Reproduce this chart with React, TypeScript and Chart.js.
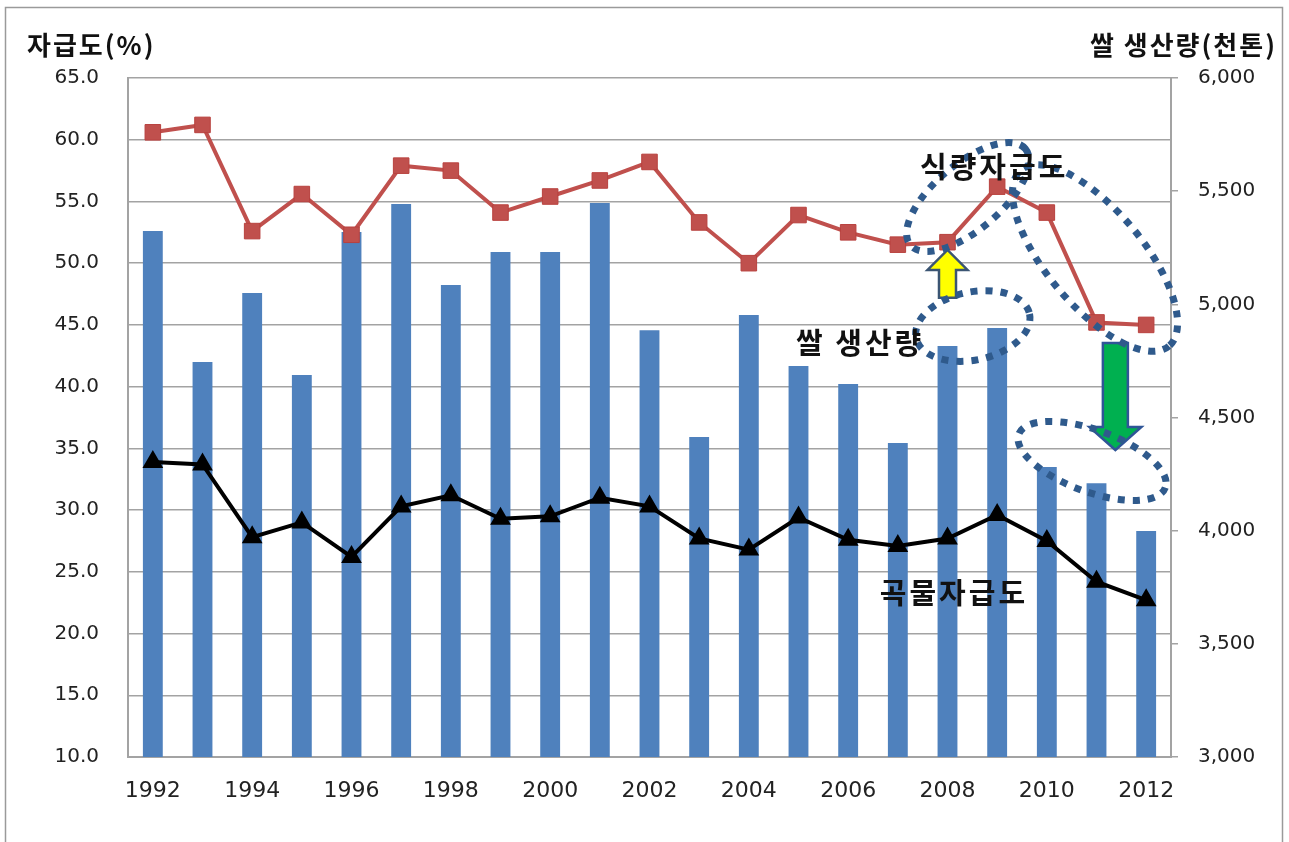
import React, { useEffect, useRef } from "react";
import { Chart, registerables } from "chart.js";
Chart.register(...registerables);

// ---- data ----
const years = [
  "1992", "1993", "1994", "1995", "1996", "1997", "1998", "1999", "2000", "2001", "2002",
  "2003", "2004", "2005", "2006", "2007", "2008", "2009", "2010", "2011", "2012",
];
// 쌀 생산량 (천톤), right axis
const riceProduction = [
  5324, 4745, 5050, 4688, 5320, 5443, 5085, 5231, 5231, 5448, 4886,
  4414, 4953, 4727, 4648, 4387, 4816, 4895, 4281, 4210, 3998,
];
// 식량자급도 (%), left axis
const foodSelfSufficiency = [
  60.6, 61.2, 52.6, 55.6, 52.3, 57.9, 57.5, 54.1, 55.4, 56.7, 58.2,
  53.3, 50.0, 53.9, 52.5, 51.5, 51.7, 56.2, 54.1, 45.2, 45.0,
];
// 곡물자급도 (%), left axis
const grainSelfSufficiency = [
  33.9, 33.7, 27.8, 29.0, 26.2, 30.3, 31.2, 29.3, 29.5, 31.0, 30.3,
  27.7, 26.8, 29.4, 27.6, 27.1, 27.7, 29.6, 27.5, 24.2, 22.7,
];
const leftTitle = "자급도(%)";
const rightTitle = "쌀 생산량(천톤)";

// annotations anchored in data coordinates (category index, left-axis value)
const annotationTexts = [
  { text: "식량자급도", i: 16.94, v: 57.8 },
  { text: "쌀 생산량", i: 14.24, v: 43.5 },
  { text: "곡물자급도", i: 16.13, v: 23.3 },
];
const ellipses = [
  { i: 16.41, v: 55.36, rx: 75, ry: 33, rot: -40 },
  { i: 18.97, v: 50.42, rx: 115, ry: 48, rot: 50 },
  { i: 16.51, v: 44.91, rx: 58, ry: 34, rot: -12 },
  { i: 18.91, v: 33.98, rx: 78, ry: 31, rot: 20 },
];
const arrows = [
  { i: 16, from: 47.2, to: 51.07, fill: "#ffff00", stroke: "#3b5573", shaft: 17, head: 40, headLen: 20 },
  { i: 19.38, from: 43.54, to: 34.87, fill: "#00b050", stroke: "#2f5597", shaft: 25, head: 52, headLen: 23 },
];

const W = 1289;
const H = 842;
const TICK_COLOR = "#222";
const GRID_COLOR = "#a3a3a3";

const framePlugin = {
  id: "frame",
  beforeDraw(chart: any) {
    const ctx = chart.ctx;
    ctx.save();
    ctx.fillStyle = "#fff";
    ctx.fillRect(0, 0, W, H);
    ctx.strokeStyle = "#9a9a9a";
    ctx.lineWidth = 1.5;
    ctx.strokeRect(5.5, 7.5, 1277, 900);
    ctx.restore();
  },
  afterDraw(chart: any) {
    const ctx = chart.ctx;
    ctx.save();
    ctx.fillStyle = "#111";
    ctx.font = 'bold 26px "Noto Sans CJK KR"';
    (ctx as any).letterSpacing = "2px";
    ctx.textBaseline = "middle";
    ctx.textAlign = "left";
    ctx.fillText(leftTitle, 27, 45);
    ctx.textAlign = "right";
    ctx.fillText(rightTitle, 1277, 45);
    ctx.restore();
  },
};

const annotationPlugin = {
  id: "annotations",
  afterDatasetsDraw(chart: any) {
    const ctx = chart.ctx;
    const xs = chart.scales.x;
    const ys = chart.scales.y;
    const px = (i: number) => xs.getPixelForValue(i);
    const py = (v: number) => ys.getPixelForValue(v);
    ctx.save();

    // arrows
    arrows.forEach((a) => {
      const x = px(a.i);
      const y0 = py(a.from);
      const y1 = py(a.to);
      const dir = y1 < y0 ? -1 : 1; // -1 pointing up
      const hb = y1 - dir * a.headLen; // head base
      ctx.beginPath();
      ctx.moveTo(x - a.shaft / 2, y0);
      ctx.lineTo(x - a.shaft / 2, hb);
      ctx.lineTo(x - a.head / 2, hb);
      ctx.lineTo(x, y1);
      ctx.lineTo(x + a.head / 2, hb);
      ctx.lineTo(x + a.shaft / 2, hb);
      ctx.lineTo(x + a.shaft / 2, y0);
      ctx.closePath();
      ctx.fillStyle = a.fill;
      ctx.fill();
      ctx.strokeStyle = a.stroke;
      ctx.lineWidth = 2.5;
      ctx.lineJoin = "miter";
      ctx.stroke();
    });

    // dotted ellipses
    ctx.setLineDash([7, 8]);
    ctx.lineWidth = 7;
    ctx.strokeStyle = "#2f5a8c";
    ellipses.forEach((e) => {
      ctx.beginPath();
      ctx.ellipse(px(e.i), py(e.v), e.rx, e.ry, (e.rot * Math.PI) / 180, 0, Math.PI * 2);
      ctx.stroke();
    });
    ctx.setLineDash([]);

    // texts
    ctx.fillStyle = "#111";
    ctx.font = 'bold 29px "Noto Sans CJK KR"';
    (ctx as any).letterSpacing = "3px";
    ctx.textAlign = "center";
    ctx.textBaseline = "middle";
    annotationTexts.forEach((t) => {
      ctx.fillText(t.text, px(t.i), py(t.v));
    });
    ctx.restore();
  },
};

export default function App() {
  const ref = useRef<HTMLCanvasElement | null>(null);

  useEffect(() => {
    if (!ref.current) return;
    const chart = new Chart(ref.current, {
      type: "bar",
      data: {
        labels: years,
        datasets: [
          {
            type: "line",
            label: "식량자급도",
            data: foodSelfSufficiency,
            yAxisID: "y",
            borderColor: "#c0504d",
            backgroundColor: "#c0504d",
            borderWidth: 4,
            pointStyle: "rect",
            pointRadius: 11,
            pointBorderWidth: 1,
            pointBorderColor: "#b8413e",
            tension: 0,
            order: 1,
          } as any,
          {
            type: "line",
            label: "곡물자급도",
            data: grainSelfSufficiency,
            yAxisID: "y",
            borderColor: "#000",
            backgroundColor: "#000",
            borderWidth: 4,
            pointStyle: "triangle",
            pointRadius: 8,
            tension: 0,
            order: 2,
          } as any,
          {
            type: "bar",
            label: "쌀 생산량",
            data: riceProduction,
            yAxisID: "y1",
            backgroundColor: "#4f81bd",
            barPercentage: 0.8,
            categoryPercentage: 0.5,
            order: 3,
          },
        ],
      },
      options: {
        responsive: false,
        animation: false,
        devicePixelRatio: 1,
        layout: { padding: { left: 0, right: 0, top: 78, bottom: 0 } },
        plugins: {
          legend: { display: false },
          title: { display: false },
          tooltip: { enabled: false },
        },
        scales: {
          x: {
            afterFit: (s: any) => {
              s.height = 85;
            },
            grid: { drawOnChartArea: false, drawTicks: false },
            border: { display: true, color: GRID_COLOR, width: 2 },
            ticks: {
              autoSkip: false,
              maxRotation: 0,
              padding: 21,
              color: TICK_COLOR,
              font: { family: "DejaVu Sans", size: 22 },
              callback: (_v: any, idx: number) => (idx % 2 === 0 ? years[idx] : ""),
            },
          },
          y: {
            position: "left",
            min: 10,
            max: 65,
            afterFit: (s: any) => {
              s.width = 128;
            },
            grid: { color: GRID_COLOR, lineWidth: 1.5, drawTicks: false },
            border: { display: true, color: GRID_COLOR, width: 2 },
            ticks: {
              stepSize: 5,
              padding: 29,
              color: TICK_COLOR,
              font: { family: "DejaVu Sans", size: 20 },
              callback: (v: any) => Number(v).toFixed(1),
            },
          },
          y1: {
            position: "right",
            min: 3000,
            max: 6000,
            afterFit: (s: any) => {
              s.width = W - 1171;
            },
            grid: { drawOnChartArea: false, drawTicks: true, tickLength: 7, color: GRID_COLOR, lineWidth: 1.5 },
            border: { display: true, color: GRID_COLOR, width: 2 },
            ticks: {
              stepSize: 500,
              padding: 20,
              color: TICK_COLOR,
              font: { family: "DejaVu Sans", size: 20 },
              callback: (v: any) => Number(v).toLocaleString("en-US"),
            },
          },
        },
      },
      plugins: [framePlugin, annotationPlugin],
    });
    return () => chart.destroy();
  }, []);

  return (
    <div style={{ position: "absolute", left: 0, top: 0, width: W, height: H, overflow: "hidden" }}>
      <canvas ref={ref} width={W} height={H} style={{ display: "block", width: W, height: H }} />
    </div>
  );
}
